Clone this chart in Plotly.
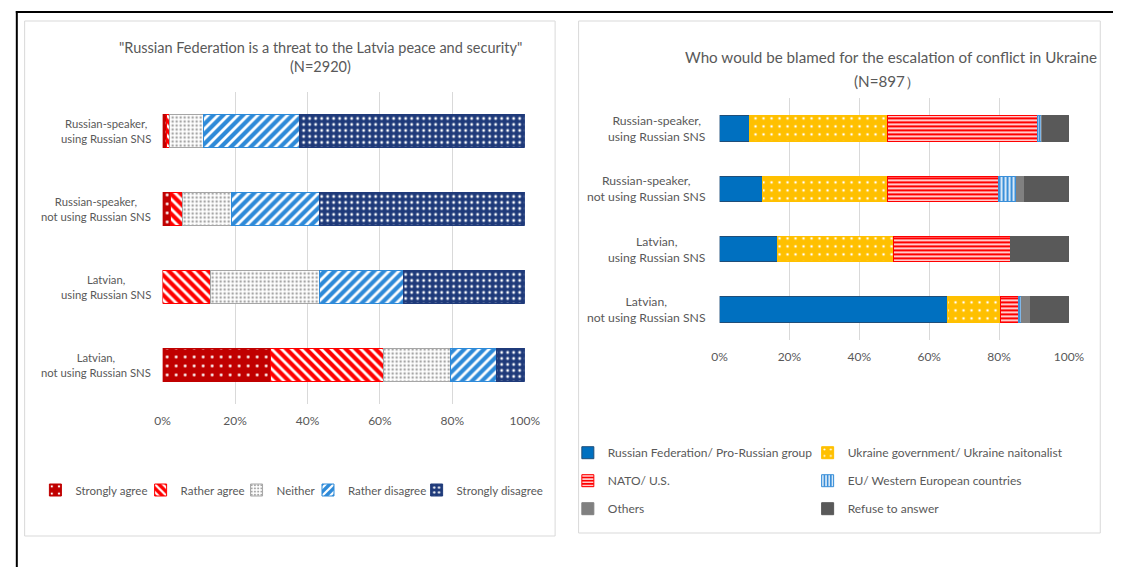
import plotly.graph_objects as go

W, H = 1129, 567

# ---------------- data ----------------
categories = [
    "Russian-speaker,<br>using Russian SNS",
    "Russian-speaker,<br>not using Russian SNS",
    "Latvian,<br>using Russian SNS",
    "Latvian,<br>not using Russian SNS",
]

threat_series = ["Strongly agree", "Rather agree", "Neither", "Rather disagree", "Strongly disagree"]
strongly_agree = [1.0, 2.3, 0.0, 29.8]
rather_agree = [1.0, 3.1, 13.3, 31.2]
neither = [9.3, 13.5, 30.0, 18.4]
rather_disagree = [26.6, 24.4, 23.1, 12.8]
strongly_disagree = [62.1, 56.7, 33.6, 7.8]

blame_series = [
    "Russian Federation/ Pro-Russian group",
    "Ukraine government/ Ukraine naitonalist",
    "NATO/ U.S.",
    "EU/ Western European countries",
    "Others",
    "Refuse to answer",
]
blame_rf = [8.6, 12.4, 16.5, 65.2]
blame_ukraine = [39.4, 35.6, 33.4, 15.1]
blame_nato = [43.1, 31.9, 33.5, 5.3]
blame_eu = [1.0, 5.0, 0.0, 0.8]
blame_others = [0.3, 2.5, 0.0, 2.5]
blame_refuse = [7.6, 12.6, 16.6, 11.1]

x_ticks = [0, 20, 40, 60, 80, 100]
x_ticktext = ["0%", "20%", "40%", "60%", "80%", "100%"]

title_left_1 = '"Russian Federation is a threat to the Latvia peace and security"'
title_left_2 = "(N=2920)"
title_right_1 = "Who would be blamed for the escalation of conflict in Ukraine"
title_right_2 = "(N=897）"

# ---------------- helpers ----------------
FONT = "Lato"
TXT = "#595959"


def px(x):
    return x / W


def py(y):
    return 1 - y / H


fig = go.Figure()

left_styles = [
    dict(color="#C00000", shape=".", fg="#FFFFFF", size=9, sol=0.08, line="#C00000"),
    dict(color="#FF0000", shape="\\", fg="#FFFFFF", size=7, sol=0.4, line="#FF0000"),
    dict(color="#FFFFFF", shape=".", fg="#A6A6A6", size=4, sol=0.3, line="#A6A6A6"),
    dict(color="#2E8AD8", shape="/", fg="#FFFFFF", size=7, sol=0.4, line="#2E8AD8"),
    dict(color="#1F3A7A", shape=".", fg="#FFFFFF", size=6, sol=0.18, line="#1F3A7A"),
]
left_values = [strongly_agree, rather_agree, neither, rather_disagree, strongly_disagree]
# legend text start positions (px)
left_leg_x = [68, 175.5, 273.5, 346.5, 457.5]

legend_layouts = {}
leg_idx = 1


def leg_name(i):
    return "legend" if i == 1 else f"legend{i}"


for name, vals, st, lx in zip(threat_series, left_values, left_styles, left_leg_x):
    ln = leg_name(leg_idx)
    fig.add_trace(go.Bar(
        name=name, y=categories, x=vals, orientation="h",
        xaxis="x", yaxis="y", legend=ln,
        marker=dict(
            color=st["color"],
            line=dict(color=st["line"], width=1),
            pattern=dict(shape=st["shape"], bgcolor=st["color"], fgcolor=st["fg"],
                         size=st["size"], solidity=st["sol"], fillmode="replace"),
        ),
        hoverinfo="x+name",
    ))
    legend_layouts[ln] = dict(x=px(lx - 40), y=py(490), xanchor="left", yanchor="middle",
                              orientation="h", bgcolor="rgba(0,0,0,0)",
                              font=dict(family=FONT, size=11.5, color=TXT))
    leg_idx += 1

right_styles = [
    dict(color="#0070C0", shape="", fg="#0070C0", size=8, sol=0.2, line="#1F4E79"),
    dict(color="#FFC000", shape=".", fg="#FFFFFF", size=8, sol=0.08, line="#FFC000"),
    dict(color="#FF0000", shape="-", fg="#FFFFFF", size=4, sol=0.4, line="#FF0000"),
    dict(color="#3A8FD9", shape="|", fg="#FFFFFF", size=4, sol=0.4, line="#3A8FD9"),
    dict(color="#808080", shape="", fg="#808080", size=8, sol=0.2, line="#808080"),
    dict(color="#595959", shape="", fg="#595959", size=8, sol=0.2, line="#595959"),
]
right_values = [blame_rf, blame_ukraine, blame_nato, blame_eu, blame_others, blame_refuse]
right_leg_pos = [(612, 452.7), (857, 452.7), (612, 480.7), (857, 480.7),
                 (612, 508.7), (857, 508.7)]

for name, vals, st, (lx, ly) in zip(blame_series, right_values, right_styles, right_leg_pos):
    ln = leg_name(leg_idx)
    marker = dict(color=st["color"], line=dict(color=st["line"], width=1))
    if st["shape"]:
        marker["pattern"] = dict(shape=st["shape"], bgcolor=st["color"], fgcolor=st["fg"],
                                 size=st["size"], solidity=st["sol"], fillmode="replace")
    fig.add_trace(go.Bar(
        name=name, y=categories, x=vals, orientation="h",
        xaxis="x2", yaxis="y2", legend=ln, marker=marker,
        hoverinfo="x+name",
    ))
    legend_layouts[ln] = dict(x=px(lx - 40), y=py(ly), xanchor="left", yanchor="middle",
                              orientation="h", bgcolor="rgba(0,0,0,0)",
                              font=dict(family=FONT, size=12, color=TXT))
    leg_idx += 1

axis_common = dict(
    range=[0, 100], tickvals=x_ticks, ticktext=x_ticktext, tickmode="array",
    showgrid=True, gridcolor="#D9D9D9",
    gridwidth=1, zeroline=False, showline=False, ticks="", ticklabelstandoff=8,
    tickfont=dict(family=FONT, size=12, color=TXT), fixedrange=True,
)
yaxis_common = dict(
    categoryorder="array", categoryarray=categories, autorange="reversed",
    showticklabels=False, showgrid=False, zeroline=False, showline=False, ticks="",
    fixedrange=True,
)

annotations = []
# category labels (centered multi-line, right-anchored)
for c in categories:
    annotations.append(dict(text=c, xref="x domain", yref="y", x=0, y=c, xanchor="right",
                            yanchor="middle", xshift=-10, align="center", showarrow=False,
                            font=dict(family=FONT, size=11.3, color=TXT)))
    annotations.append(dict(text=c, xref="x2 domain", yref="y2", x=0, y=c, xanchor="right",
                            yanchor="middle", xshift=-12, align="center", showarrow=False,
                            font=dict(family=FONT, size=12.2, color=TXT)))

annotations += [
    dict(text=title_left_1, xref="paper", yref="paper", x=px(319), y=py(47.3),
         xanchor="center", yanchor="middle", showarrow=False,
         font=dict(family=FONT, size=14.5, color=TXT)),
    dict(text=title_left_2, xref="paper", yref="paper", x=px(319), y=py(66.7),
         xanchor="center", yanchor="middle", showarrow=False,
         font=dict(family=FONT, size=14.5, color=TXT)),
    dict(text=title_right_1, xref="paper", yref="paper", x=px(902.6), y=py(57),
         xanchor="center", yanchor="middle", showarrow=False,
         font=dict(family=FONT, size=15.2, color=TXT)),
    dict(text=title_right_2, xref="paper", yref="paper", x=px(898), y=py(81),
         xanchor="center", yanchor="middle", showarrow=False,
         font=dict(family=FONT, size=15.2, color=TXT)),
]

shapes = [
    # outer black border (top + left)
    dict(type="line", xref="paper", yref="paper", x0=px(8), x1=px(1129), y0=py(12), y1=py(12),
         line=dict(color="#000000", width=2)),
    dict(type="line", xref="paper", yref="paper", x0=px(9), x1=px(9), y0=py(11), y1=py(567),
         line=dict(color="#000000", width=2)),
    # chart area frames
    dict(type="rect", xref="paper", yref="paper", x0=px(17), x1=px(559), y0=py(536), y1=py(21),
         line=dict(color="#D9D9D9", width=1), layer="below"),
    dict(type="rect", xref="paper", yref="paper", x0=px(583), x1=px(1116), y0=py(533), y1=py(21),
         line=dict(color="#D9D9D9", width=1), layer="below"),
]

layout = dict(
    width=W, height=H, margin=dict(l=0, r=0, t=0, b=0),
    paper_bgcolor="#FFFFFF", plot_bgcolor="rgba(0,0,0,0)",
    barmode="stack", bargap=0.577,
    showlegend=True,
    xaxis=dict(domain=[px(158), px(528)], anchor="y", **axis_common),
    yaxis=dict(domain=[py(404), py(91.5)], anchor="x", **yaxis_common),
    xaxis2=dict(domain=[px(727), px(1084)], anchor="y2", **axis_common),
    yaxis2=dict(domain=[py(339.6), py(98.4)], anchor="x2", **yaxis_common),
    annotations=annotations, shapes=shapes,
    font=dict(family=FONT, color=TXT),
)
layout.update(legend_layouts)
fig.update_layout(**layout)

fig.write_html(
    "out.html",
    config={"displayModeBar": False},
    post_script="document.body.style.margin='0';document.body.style.padding='0';"
                "document.body.style.overflow='hidden';",
)
